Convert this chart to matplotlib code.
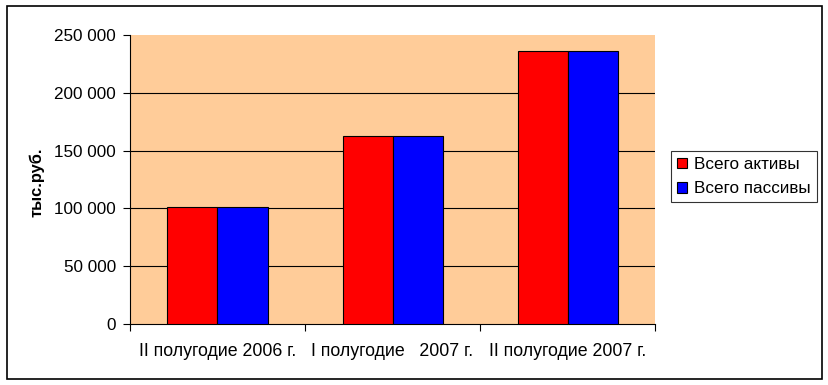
import numpy as np
import matplotlib.pyplot as plt
import matplotlib.patches as patches

plt.rcParams['font.family'] = ['Liberation Sans', 'DejaVu Sans']

categories = ['II полугодие 2006 г.', 'I полугодие   2007 г.', 'II полугодие 2007 г.']
aktivy = [101000, 162500, 236000]
passivy = [101000, 162500, 236000]
series_names = ['Всего активы', 'Всего пассивы']

fig = plt.figure(figsize=(8.29, 3.85), dpi=100)
ax = fig.add_axes([130/829, 1-324/385, 525/829, 289/385])
ax.set_facecolor('#FFCC99')

x = np.arange(len(categories))
w = 1/3.5
ax.bar(x - w/2, aktivy, w, color='#FF0000', edgecolor='black', linewidth=0.8, label=series_names[0], zorder=3)
ax.bar(x + w/2, passivy, w, color='#0000FF', edgecolor='black', linewidth=0.8, label=series_names[1], zorder=3)

ax.set_xlim(-0.5, 2.5)
ax.set_ylim(0, 250000)
yt = np.arange(0, 250001, 50000)
ax.set_yticks(yt)
ax.set_yticklabels([f'{v:,}'.replace(',', ' ') for v in yt], fontsize=12.3)
for v in yt[1:-1]:
    ax.axhline(v, color='black', linewidth=0.8, zorder=1)

ax.set_xticks([-0.5, 0.5, 1.5, 2.5])
ax.set_xticklabels([])
ax.set_xticks(x, minor=True)
ax.set_xticklabels(categories, minor=True, fontsize=12.8)
ax.tick_params(axis='x', which='minor', length=0, pad=14)
ax.tick_params(axis='x', which='major', length=5, direction='out', width=0.8)
ax.tick_params(axis='y', length=5, direction='out', width=0.8, pad=5)

for s in ['top', 'right']:
    ax.spines[s].set_visible(False)
ax.spines['left'].set_linewidth(0.8)
ax.spines['bottom'].set_linewidth(0.8)

fig.text(37/829, 1-182/385, 'тыс.руб.', rotation=90, fontsize=11.8, fontweight='bold',
         ha='center', va='center')

leg = fig.legend(loc='upper left', bbox_to_anchor=(671/829, 1-151/385), fontsize=12.3,
                 frameon=True, fancybox=False, edgecolor='black', handlelength=0.6,
                 handleheight=0.6, handletextpad=0.4, borderpad=0.35, labelspacing=0.55,
                 borderaxespad=0)
leg.get_frame().set_linewidth(0.8)

fig.patches.append(patches.Rectangle((7/829, 6/385), 815/829, 373/385, transform=fig.transFigure,
                                     fill=False, edgecolor='black', linewidth=1.2))

fig.savefig('out.png', dpi=100)
